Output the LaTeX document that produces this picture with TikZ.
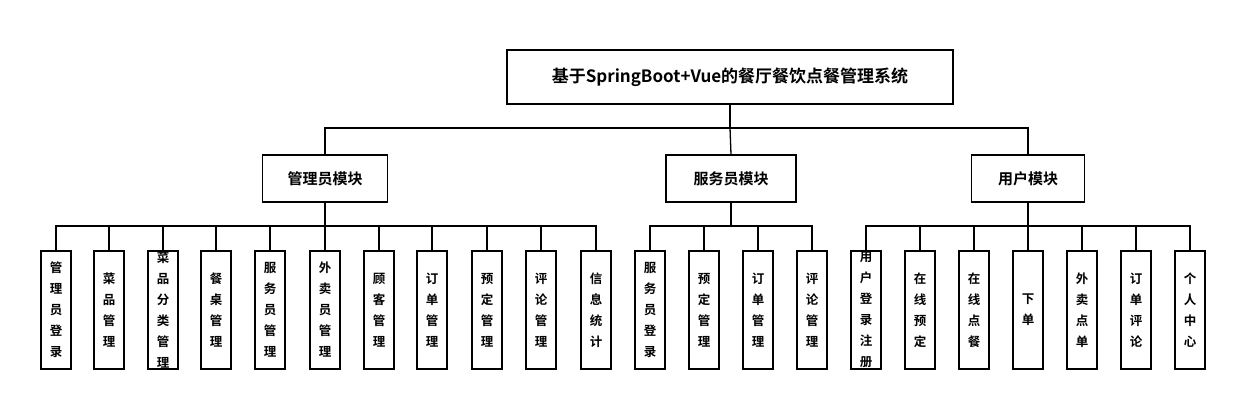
\documentclass[tikz,border=0pt]{standalone}
\usepackage{fontspec}
\setmainfont{Noto Sans CJK SC}[BoldFont={Noto Sans CJK SC Bold}]
\begin{document}
\begin{tikzpicture}[x=1pt,y=-1pt,
  box/.style={draw,line width=1.3pt,inner sep=0pt,font=\bfseries},
  leaf/.style={box,minimum width=30pt,minimum height=118pt,align=center,font=\bfseries\fontsize{12.5}{21}\selectfont},
  mid/.style={box,minimum height=47pt,font=\bfseries\fontsize{15}{18}\selectfont},
  ln/.style={line width=1.3pt}]
\useasboundingbox (0,0) rectangle (1244,420);
\node[box,minimum width=446pt,minimum height=54pt,font=\bfseries\fontsize{17}{20}\selectfont] (root) at (730,77) {基于SpringBoot+Vue的餐厅餐饮点餐管理系统};
\node[mid,minimum width=125pt] (a) at (325,178.5) {管理员模块};
\node[mid,minimum width=130pt] (w) at (731,178.5) {服务员模块};
\node[mid,minimum width=113pt] (u) at (1028,178.5) {用户模块};
\coordinate (j) at (730,128);
\draw[ln] (root.south) -- (j);
\draw[ln] (a.north) |- (j) -| (u.north);
\draw[ln] (j) -- (w.north);
\foreach \n/\x/\t in {a1/56/管\\理\\员\\登\\录, a2/109/菜\\品\\管\\理, a3/163/菜\\品\\分\\类\\管\\理, a4/216/餐\\桌\\管\\理, a5/270/服\\务\\员\\管\\理, a6/325/外\\卖\\员\\管\\理, a7/379/顾\\客\\管\\理, a8/432/订\\单\\管\\理, a9/487/预\\定\\管\\理, a10/541/评\\论\\管\\理, a11/596/信\\息\\统\\计}
{\node[leaf] (\n) at (\x,310) {\t}; \draw[ln] (a.south) -- (325,226) -| (\n.north);}
\foreach \n/\x/\t in {w1/650/服\\务\\员\\登\\录, w2/704/预\\定\\管\\理, w3/758/订\\单\\管\\理, w4/812/评\\论\\管\\理}
{\node[leaf] (\n) at (\x,310) {\t}; \draw[ln] (w.south) -- (731,226) -| (\n.north);}
\foreach \n/\x/\t in {u1/866/用\\户\\登\\录\\注\\册, u2/920/在\\线\\预\\定, u3/974/在\\线\\点\\餐, u4/1028/下\\单, u5/1082/外\\卖\\点\\单, u6/1136/订\\单\\评\\论, u7/1190/个\\人\\中\\心}
{\node[leaf] (\n) at (\x,310) {\t}; \draw[ln] (u.south) -- (1028,226) -| (\n.north);}
\end{tikzpicture}
\end{document}
